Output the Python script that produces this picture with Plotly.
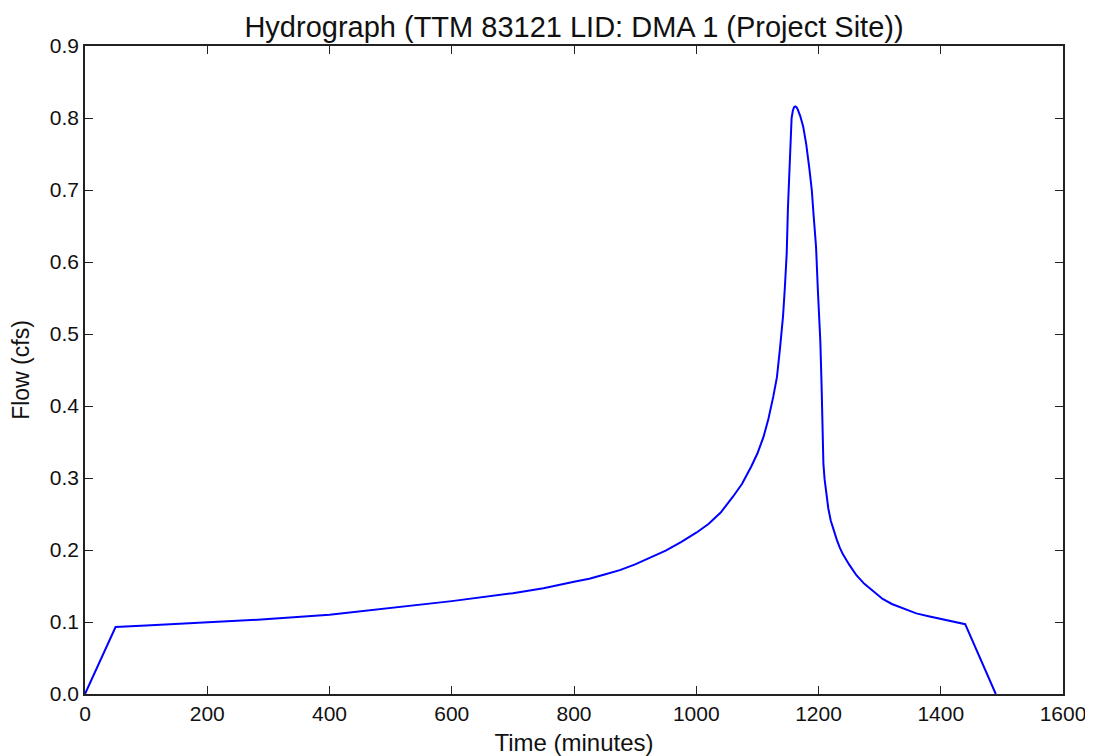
import plotly.graph_objects as go

time_min = [0, 50, 100, 200, 300, 400, 500, 600, 700, 750, 800, 825, 850, 875, 900,
            925, 950, 975, 1000, 1020, 1040, 1060, 1075, 1090, 1100, 1110, 1118,
            1126, 1132, 1137, 1142, 1145, 1148, 1150, 1152, 1154, 1156, 1158, 1160,
            1162, 1164, 1166, 1170, 1175, 1180, 1185, 1189, 1192, 1196, 1199, 1201,
            1203, 1205, 1206, 1207, 1208, 1210, 1213, 1216, 1220, 1225, 1230, 1235,
            1240, 1250, 1262, 1275, 1290, 1305, 1320, 1340, 1360, 1380, 1400, 1420,
            1440, 1490]
flow_cfs = [0.0, 0.093, 0.095, 0.099, 0.104, 0.110, 0.119, 0.129, 0.140, 0.147,
            0.156, 0.160, 0.166, 0.172, 0.180, 0.189, 0.199, 0.211, 0.224, 0.236,
            0.252, 0.274, 0.292, 0.316, 0.334, 0.357, 0.382, 0.413, 0.440, 0.480,
            0.525, 0.565, 0.612, 0.675, 0.725, 0.770, 0.800, 0.810, 0.815, 0.816,
            0.815, 0.812, 0.803, 0.788, 0.763, 0.730, 0.700, 0.665, 0.621, 0.560,
            0.529, 0.490, 0.430, 0.380, 0.345, 0.320, 0.298, 0.275, 0.258, 0.241,
            0.226, 0.214, 0.203, 0.194, 0.180, 0.165, 0.153, 0.142, 0.132, 0.125,
            0.118, 0.112, 0.108, 0.104, 0.100, 0.097, 0.0]

x_ticks = [0, 200, 400, 600, 800, 1000, 1200, 1400, 1600]
y_ticks = [0.0, 0.1, 0.2, 0.3, 0.4, 0.5, 0.6, 0.7, 0.8, 0.9]

FONT = "Liberation Sans, Arial, sans-serif"

fig = go.Figure()
fig.add_trace(go.Scatter(x=time_min, y=flow_cfs, mode="lines",
                         line=dict(color="#0000ff", width=2), showlegend=False))

axis_common = dict(showgrid=False, zeroline=False, showline=True, linecolor="#222222",
                   linewidth=1.5, mirror="ticks", ticks="inside", ticklen=8,
                   tickwidth=1, tickcolor="#222222",
                   tickfont=dict(family=FONT, size=21, color="#111111"))

fig.update_xaxes(range=[0, 1600], tickvals=x_ticks, **axis_common,
                 title=dict(text="Time (minutes)", font=dict(family=FONT, size=24, color="#111111"),
                            standoff=12))
fig.update_yaxes(range=[0, 0.9], tickvals=y_ticks, tickformat=".1f", **axis_common,
                 title=dict(text="Flow (cfs)", font=dict(family=FONT, size=23, color="#111111"),
                            standoff=16))

W, H = 1085, 748
fig.update_layout(
    width=W, height=H,
    margin=dict(l=77, r=30, t=38, b=62, autoexpand=False),
    paper_bgcolor="white", plot_bgcolor="white",
    title=dict(text="Hydrograph (TTM 83121 LID: DMA 1 (Project Site))",
               font=dict(family=FONT, size=29, color="#111111"),
               x=(574 - 8) / W, xanchor="center", y=1 - (27 - 8) / H, yanchor="middle"),
)

fig.write_html("out.html")
